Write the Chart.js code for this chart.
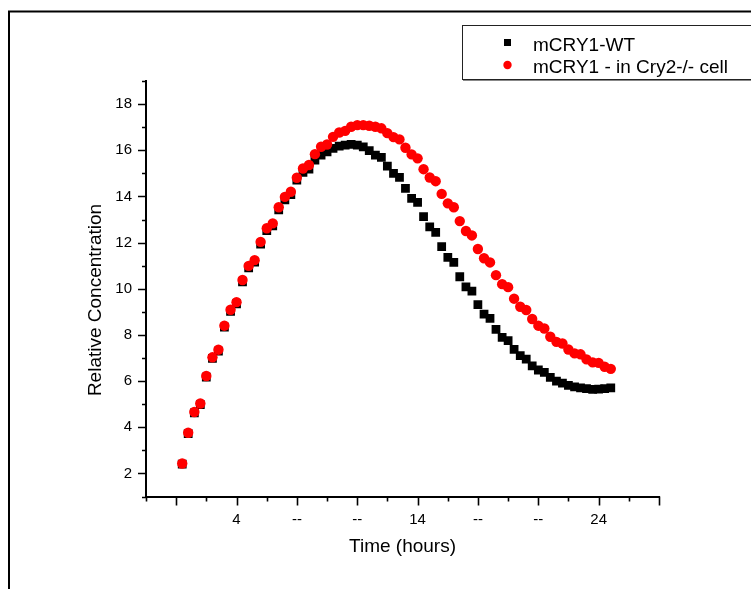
<!DOCTYPE html>
<html><head><meta charset="utf-8">
<script src="https://cdn.jsdelivr.net/npm/chart.js@4/dist/chart.umd.min.js"></script>
<style>html,body{margin:0;padding:0;background:#fff;overflow:hidden}#wrap{position:relative;width:751px;height:589px}</style>
</head><body><div id="wrap"><canvas id="c" width="751" height="589"></canvas></div>
<script>
const hours = [1.00,1.33,1.67,2.00,2.33,2.67,3.00,3.33,3.67,4.00,4.33,4.67,5.00,5.33,5.67,6.00,6.33,6.67,7.00,7.33,7.67,8.00,8.33,8.67,9.00,9.33,9.67,10.00,10.33,10.67,11.00,11.33,11.67,12.00,12.33,12.67,13.00,13.33,13.67,14.00,14.33,14.67,15.00,15.33,15.67,16.00,16.33,16.67,17.00,17.33,17.67,18.00,18.33,18.67,19.00,19.33,19.67,20.00,20.33,20.67,21.00,21.33,21.67,22.00,22.33,22.67,23.00,23.33,23.67,24.00,24.33,24.67];
const wtValues = [2.40,3.72,4.62,4.98,6.17,6.98,7.30,8.34,9.02,9.35,10.30,10.90,11.15,11.93,12.52,12.72,13.42,13.85,14.08,14.71,15.04,15.18,15.57,15.79,15.93,16.08,16.18,16.22,16.25,16.22,16.15,15.98,15.79,15.69,15.31,15.00,14.82,14.35,13.92,13.74,13.12,12.68,12.44,11.82,11.36,11.14,10.52,10.08,9.90,9.31,8.90,8.72,8.24,7.89,7.75,7.37,7.10,6.95,6.66,6.48,6.38,6.16,6.00,5.91,5.81,5.75,5.71,5.67,5.64,5.65,5.67,5.71];
const cry2Values = [2.43,3.76,4.66,5.03,6.22,7.03,7.36,8.40,9.09,9.42,10.38,10.99,11.24,12.03,12.62,12.83,13.53,13.98,14.20,14.81,15.21,15.36,15.83,16.15,16.25,16.58,16.77,16.84,17.02,17.09,17.09,17.06,17.02,16.95,16.74,16.57,16.47,16.11,15.82,15.65,15.18,14.82,14.66,14.11,13.70,13.53,12.93,12.50,12.31,11.72,11.32,11.14,10.59,10.20,10.07,9.57,9.22,9.08,8.69,8.40,8.28,7.92,7.70,7.63,7.37,7.20,7.16,6.94,6.81,6.79,6.62,6.53];
const seriesNames = ['mCRY1-WT', 'mCRY1 - in Cry2-/- cell'];
const xTickValues = [2/3, 4, 22/3, 32/3, 14, 52/3, 62/3, 24, 82/3];
const xTickLabels = ['', '4', '--', '--', '14', '--', '--', '24', ''];
const yTickValues = [2, 4, 6, 8, 10, 12, 14, 16, 18];
const xTitle = 'Time (hours)';
const yTitle = 'Relative Concentration';

const FONT = "'Liberation Sans', Arial, Helvetica, sans-serif";
const toPts = (xs, ys) => xs.map((x, i) => ({x: x, y: ys[i]}));

const decor = {
  id: 'decor',
  beforeDraw(chart) {
    const ctx = chart.ctx;
    ctx.save();
    ctx.fillStyle = '#fff';
    ctx.fillRect(0, 0, chart.width, chart.height);
    ctx.strokeStyle = '#000';
    ctx.lineWidth = 2;
    ctx.strokeRect(9, 11.5, 900, 700);
    ctx.restore();
  },
  afterDraw(chart) {
    const ctx = chart.ctx;
    const xs = chart.scales.x, ys = chart.scales.y;
    const a = chart.chartArea;
    ctx.save();
    ctx.strokeStyle = '#000';
    ctx.lineWidth = 1.6;
    ctx.beginPath();
    // x ticks: major + minor midpoints
    const xMinor = [xs.min];
    for (let i = 0; i < xTickValues.length - 1; i++) xMinor.push((xTickValues[i] + xTickValues[i + 1]) / 2);
    xTickValues.forEach(v => { const p = Math.round(xs.getPixelForValue(v)) + 0.5; ctx.moveTo(p, a.bottom); ctx.lineTo(p, a.bottom + 9); });
    xMinor.forEach(v => { const p = Math.round(xs.getPixelForValue(v)) + 0.5; ctx.moveTo(p, a.bottom); ctx.lineTo(p, a.bottom + 5); });
    // y ticks
    const yMinor = [ys.min];
    yTickValues.forEach(v => yMinor.push(v + 1));
    yTickValues.forEach(v => { const p = Math.round(ys.getPixelForValue(v)) + 0.5; ctx.moveTo(a.left, p); ctx.lineTo(a.left - 8, p); });
    yMinor.forEach(v => { const p = Math.round(ys.getPixelForValue(v)) + 0.5; ctx.moveTo(a.left, p); ctx.lineTo(a.left - 4, p); });
    ctx.stroke();

    // axis titles
    ctx.fillStyle = '#000';
    ctx.font = '19px ' + FONT;
    ctx.textAlign = 'center';
    ctx.textBaseline = 'middle';
    ctx.fillText(xTitle, (a.left + a.right) / 2, 547);
    ctx.save();
    ctx.translate(96, 300);
    ctx.rotate(-Math.PI / 2);
    ctx.fillText(yTitle, 0, 0);
    ctx.restore();

    // legend
    ctx.fillStyle = '#fff';
    ctx.fillRect(462.5, 25.5, 400, 54);
    ctx.lineWidth = 1;
    ctx.strokeStyle = '#222';
    ctx.strokeRect(462.5, 25.5, 400, 54);
    ctx.strokeStyle = '#888';
    ctx.beginPath(); ctx.moveTo(463, 80.5); ctx.lineTo(751, 80.5); ctx.stroke();
    const ds = chart.data.datasets;
    ctx.fillStyle = ds[0].backgroundColor;
    ctx.fillRect(504, 39, 7, 7);
    ctx.fillStyle = ds[1].backgroundColor;
    ctx.beginPath(); ctx.arc(507.5, 65, 4.2, 0, Math.PI * 2); ctx.fill();
    ctx.fillStyle = '#000';
    ctx.textAlign = 'left';
    ctx.textBaseline = 'alphabetic';
    ctx.font = '19px ' + FONT;
    ctx.fillText(ds[0].label, 533, 50.8);
    ctx.fillText(ds[1].label, 533, 73.4);
    ctx.restore();
  }
};

new Chart(document.getElementById('c'), {
  type: 'scatter',
  data: {
    datasets: [
      { label: seriesNames[0], data: toPts(hours, wtValues), backgroundColor: '#000000', borderColor: '#000000',
        pointStyle: 'rect', pointRadius: 6.2, pointBorderWidth: 0, order: 1 },
      { label: seriesNames[1], data: toPts(hours, cry2Values), backgroundColor: '#ff0000', borderColor: '#ff0000',
        pointStyle: 'circle', pointRadius: 5.2, pointBorderWidth: 0, order: 0 }
    ]
  },
  options: {
    responsive: false,
    devicePixelRatio: 1,
    animation: false,
    events: [],
    layout: { padding: { left: 84.6, top: 81, right: 92, bottom: 30.6 } },
    plugins: { legend: { display: false }, tooltip: { enabled: false } },
    scales: {
      x: {
        type: 'linear', position: 'bottom', min: -1, max: 82/3,
        grid: { display: false, drawTicks: false },
        border: { display: true, color: '#000', width: 2 },
        ticks: { color: '#000', font: { family: FONT, size: 15 }, padding: 14, autoSkip: false, maxRotation: 0,
          callback: (v, i) => xTickLabels[i] },
        afterBuildTicks: s => { s.ticks = xTickValues.map(v => ({ value: v })); },
        afterFit: s => { s.height = 61.9; }
      },
      y: {
        type: 'linear', position: 'left', min: 1, max: 19,
        grid: { display: false, drawTicks: false },
        border: { display: true, color: '#000', width: 2 },
        ticks: { color: '#000', font: { family: FONT, size: 15 }, padding: 14, autoSkip: false,
          callback: v => String(v) },
        afterBuildTicks: s => { s.ticks = yTickValues.map(v => ({ value: v })); },
        afterFit: s => { s.width = 61.4; }
      }
    }
  },
  plugins: [decor]
});
</script></body></html>
